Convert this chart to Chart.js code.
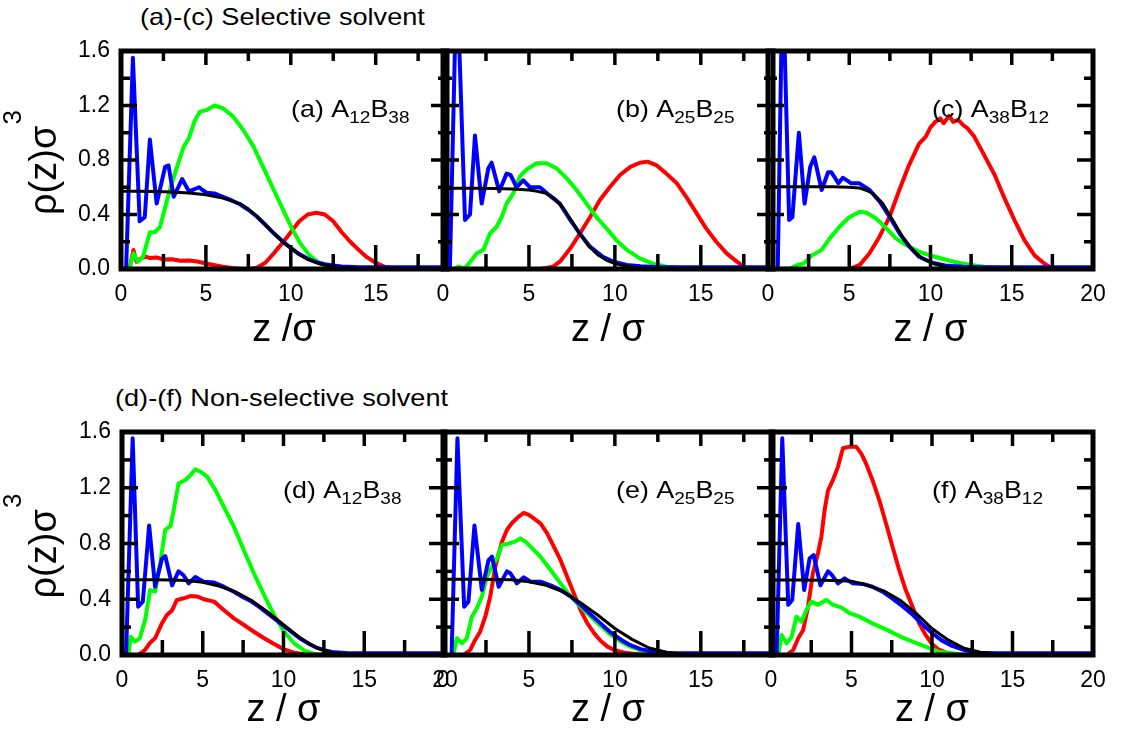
<!DOCTYPE html>
<html><head><meta charset="utf-8">
<script src="https://cdn.jsdelivr.net/npm/chart.js@4.4.1/dist/chart.umd.min.js"></script>
<style>
html,body{margin:0;padding:0;background:#fff;}
body{width:1127px;height:733px;position:relative;overflow:hidden;font-family:'Liberation Sans',Arial,sans-serif;}
canvas{position:absolute;}
.hdr{position:absolute;font-size:24px;line-height:26px;white-space:nowrap;color:#000;transform:scaleX(1.13);transform-origin:0 0;}
</style></head><body>
<div class="hdr" style="left:140px;top:4px">(a)-(c) Selective solvent</div>
<div class="hdr" style="left:115px;top:385px">(d)-(f) Non-selective solvent</div>
<script>
// ---------- data: [z/σ, ρ(z)σ³] ----------
const a_black = [[0,0.57],[1,0.57],[2,0.568],[3,0.565],[4,0.558],[5,0.545],[6,0.52],[6.5,0.5],[7,0.48],[7.5,0.44],[8,0.386],[8.5,0.325],[9,0.262],[9.5,0.203],[10,0.152],[10.5,0.105],[11,0.071],[11.5,0.047],[12,0.029],[12.5,0.017],[13,0.01],[14,0.003],[15,0.001],[16,0],[19.2,0]];
const a_blue = [[0.3,0],[0.7,1.55],[1.1,0.35],[1.4,0.38],[1.7,0.95],[2.1,0.48],[2.6,0.75],[2.8,0.76],[3.1,0.53],[3.6,0.66],[4.0,0.57],[4.3,0.585],[4.6,0.6],[4.8,0.58],[5.05,0.56],[5.5,0.555],[6.0,0.53],[6.5,0.505],[7,0.475],[7.5,0.435],[8,0.385],[8.5,0.325],[9,0.262],[9.5,0.205],[10,0.155],[10.5,0.11],[11,0.075],[11.5,0.05],[12,0.035],[12.5,0.025],[13,0.018],[14,0.013],[15,0.012],[19.2,0.012]];
const a_green = [[0.5,0],[0.73,0.115],[1.0,0.054],[1.3,0.09],[1.7,0.27],[2.0,0.27],[2.3,0.31],[2.7,0.5],[3.0,0.63],[3.3,0.75],[3.7,0.9],[4.0,0.96],[4.35,1.09],[4.65,1.155],[5.05,1.167],[5.5,1.2],[6.0,1.18],[6.6,1.12],[7.2,1.02],[7.8,0.9],[8.4,0.74],[9.0,0.58],[9.6,0.42],[10.06,0.3],[10.55,0.19],[11.1,0.1],[11.7,0.04],[12.3,0.01],[13,0],[19.2,0]];
const a_red = [[0.5,0],[0.73,0.14],[0.92,0.054],[1.2,0.08],[1.5,0.09],[1.7,0.08],[2.1,0.085],[2.5,0.07],[3.0,0.072],[3.5,0.06],[4.0,0.062],[4.5,0.055],[5,0.04],[6,0.017],[7,0],[7.6,0],[8,0.01],[8.5,0.046],[9,0.115],[9.5,0.19],[10,0.27],[10.5,0.35],[11,0.4],[11.5,0.413],[12,0.4],[12.5,0.35],[13,0.27],[13.5,0.2],[14,0.14],[14.5,0.085],[15,0.046],[15.5,0.017],[16,0.005],[16.5,0],[19.2,0]];

const b_black = [[0,0.592],[1,0.592],[2,0.592],[3,0.59],[4,0.588],[5,0.58],[5.5,0.57],[6,0.555],[6.5,0.515],[7,0.445],[7.5,0.35],[8,0.25],[8.5,0.165],[9,0.105],[9.5,0.066],[10,0.04],[10.5,0.025],[11,0.015],[11.5,0.009],[12,0.005],[13,0.001],[14,0],[19.2,0]];
const b_blue = [[0.4,0],[0.8,2.2],[1.28,0.36],[1.57,0.4],[1.86,0.98],[2.25,0.48],[2.64,0.74],[2.83,0.78],[3.27,0.57],[3.7,0.7],[3.93,0.69],[4.28,0.6],[4.67,0.65],[5.06,0.6],[5.64,0.6],[6.2,0.54],[6.8,0.48],[7.4,0.36],[7.96,0.26],[8.55,0.164],[9.3,0.09],[9.9,0.054],[10.7,0.03],[11.5,0.02],[12.4,0.014],[13.5,0.012],[19.2,0.012]];
const b_green = [[0.6,0],[0.9,0.017],[1.28,0.005],[1.67,0.066],[1.96,0.115],[2.35,0.14],[2.73,0.26],[3.12,0.31],[3.41,0.38],[3.7,0.48],[4.09,0.555],[4.48,0.68],[4.86,0.73],[5.45,0.776],[6.03,0.776],[6.6,0.74],[7.2,0.665],[7.77,0.58],[8.35,0.48],[8.93,0.38],[9.5,0.3],[10.1,0.21],[10.7,0.14],[11.45,0.078],[12.2,0.04],[13,0.017],[14,0.005],[15,0],[19.2,0]];
const b_red = [[0.6,0],[5.64,0],[6.4,0.017],[6.8,0.054],[7.4,0.15],[7.96,0.26],[8.55,0.38],[9.13,0.506],[9.7,0.6],[10.3,0.69],[10.9,0.75],[11.45,0.78],[11.9,0.788],[12.4,0.763],[13,0.7],[13.6,0.63],[14.2,0.52],[14.75,0.41],[15.3,0.3],[15.9,0.2],[16.5,0.115],[17.1,0.054],[17.5,0.017],[17.85,0],[19.2,0]];

const c_black = [[0,0.604],[2,0.604],[4,0.603],[5,0.6],[5.6,0.595],[6,0.58],[6.46,0.555],[7.06,0.48],[7.67,0.36],[8.28,0.237],[8.89,0.14],[9.49,0.078],[10.1,0.042],[10.9,0.017],[12,0.004],[13,0],[20,0]];
const c_blue = [[0.6,0],[0.9,2.2],[1.3,0.36],[1.5,0.38],[1.9,1.0],[2.25,0.48],[2.6,0.75],[2.85,0.82],[3.3,0.58],[3.7,0.71],[3.9,0.71],[4.33,0.63],[4.6,0.67],[5.1,0.63],[5.6,0.63],[6.25,0.58],[6.9,0.49],[7.5,0.38],[8.1,0.26],[8.7,0.164],[9.3,0.09],[10.1,0.046],[10.9,0.026],[12,0.016],[13,0.013],[14,0.012],[20,0.012]];
const c_green = [[0.7,0],[1.4,0.005],[1.8,0.03],[2.2,0.04],[2.7,0.1],[3.3,0.14],[3.8,0.225],[4.4,0.31],[5.0,0.38],[5.65,0.42],[6.05,0.413],[6.66,0.37],[7.27,0.3],[7.87,0.225],[8.5,0.176],[9.3,0.127],[10.1,0.095],[10.9,0.07],[11.7,0.046],[12.5,0.03],[13.3,0.017],[14.5,0.005],[15.5,0],[20,0]];
const c_red = [[0.7,0],[5.0,0],[5.65,0.03],[6.25,0.115],[6.86,0.237],[7.47,0.38],[8.08,0.58],[8.68,0.763],[9.3,0.92],[9.7,0.97],[10.0,1.04],[10.3,1.08],[10.6,1.106],[10.8,1.07],[11.15,1.123],[11.4,1.08],[11.7,1.094],[12.0,1.057],[12.3,1.03],[12.7,0.97],[13.3,0.837],[13.95,0.69],[14.55,0.52],[15.16,0.36],[15.77,0.213],[16.4,0.1],[17.0,0.04],[17.4,0.01],[17.8,0],[20,0]];

const d_black = [[0,0.54],[1,0.54],[2,0.54],[3,0.538],[4,0.535],[5,0.522],[6,0.495],[7,0.455],[8,0.393],[9,0.31],[10,0.217],[11,0.126],[12,0.054],[13,0.016],[14,0.005],[15,0.001],[16,0],[20,0]];
const d_blue = [[0.25,0],[0.66,1.555],[1.0,0.347],[1.29,0.383],[1.68,0.93],[2.05,0.49],[2.47,0.69],[2.68,0.71],[3.1,0.5],[3.5,0.6],[3.8,0.574],[4.13,0.514],[4.54,0.56],[5.06,0.526],[5.7,0.52],[6.3,0.49],[6.9,0.455],[7.5,0.415],[8.0,0.385],[8.5,0.345],[9.0,0.3],[9.5,0.255],[10,0.21],[10.5,0.165],[11,0.12],[11.5,0.085],[12,0.055],[12.5,0.035],[13,0.022],[14,0.013],[15,0.012],[20,0.012]];
const d_green = [[0.4,0],[0.54,0.13],[0.8,0.096],[1.1,0.12],[1.43,0.25],[1.74,0.466],[2.05,0.454],[2.37,0.66],[2.68,0.9],[3.0,0.925],[3.2,1.04],[3.5,1.23],[3.92,1.256],[4.23,1.29],[4.54,1.332],[4.85,1.315],[5.27,1.28],[5.8,1.18],[6.3,1.064],[6.93,0.92],[7.55,0.75],[8.17,0.586],[8.8,0.43],[9.42,0.287],[10.04,0.167],[10.66,0.084],[11.3,0.031],[11.9,0.007],[12.5,0],[20,0]];
const d_red = [[0.8,0],[1.0,0],[1.43,0.036],[1.74,0.088],[2.05,0.12],[2.47,0.227],[2.78,0.287],[3.1,0.32],[3.4,0.395],[3.82,0.407],[4.23,0.423],[4.65,0.42],[5.06,0.4],[5.7,0.383],[6.3,0.323],[6.93,0.263],[7.55,0.215],[8.17,0.167],[8.8,0.12],[9.42,0.079],[10.04,0.04],[10.66,0.017],[11.3,0.005],[12,0],[20,0]];

const e_black = [[0,0.543],[1,0.543],[2,0.543],[3,0.542],[4,0.54],[5,0.526],[6,0.5],[7,0.454],[8,0.375],[9,0.287],[10,0.19],[11,0.112],[12,0.05],[13,0.02],[14,0.006],[15,0],[19.2,0]];
const e_blue = [[0.5,0],[0.84,1.555],[1.23,0.347],[1.48,0.383],[1.83,0.93],[2.26,0.466],[2.65,0.68],[2.85,0.705],[3.24,0.49],[3.72,0.6],[3.92,0.586],[4.3,0.514],[4.7,0.557],[5.09,0.526],[5.67,0.526],[6.26,0.5],[6.84,0.466],[7.43,0.42],[8.0,0.36],[8.6,0.29],[9.18,0.225],[9.77,0.16],[10.35,0.11],[10.9,0.07],[11.5,0.042],[12.3,0.022],[13.1,0.014],[14,0.012],[19.2,0.012]];
const e_green = [[0.6,0],[0.8,0.12],[1.1,0.084],[1.38,0.12],[1.68,0.275],[1.97,0.335],[2.26,0.42],[2.55,0.56],[2.85,0.634],[3.14,0.694],[3.43,0.79],[3.82,0.8],[4.2,0.813],[4.5,0.837],[4.8,0.813],[5.19,0.765],[5.67,0.705],[6.26,0.61],[6.84,0.514],[7.43,0.42],[8.0,0.347],[8.6,0.275],[9.18,0.208],[9.77,0.144],[10.35,0.096],[10.9,0.06],[11.7,0.024],[12.5,0.005],[13.5,0],[19.2,0]];
const e_red = [[1.2,0],[1.58,0.036],[1.87,0.108],[2.16,0.167],[2.46,0.275],[2.75,0.42],[3.04,0.634],[3.43,0.813],[3.72,0.897],[4.0,0.945],[4.4,0.993],[4.7,1.02],[5.0,1.005],[5.28,0.98],[5.67,0.945],[6.06,0.873],[6.45,0.777],[6.84,0.68],[7.23,0.56],[7.62,0.44],[8.0,0.323],[8.4,0.227],[8.8,0.155],[9.18,0.1],[9.57,0.06],[9.96,0.036],[10.55,0.017],[11.3,0.005],[12,0],[19.2,0]];

const f_black = [[0,0.538],[1,0.538],[2,0.538],[3,0.537],[4,0.535],[5,0.53],[6,0.5],[7,0.46],[8,0.395],[9,0.3],[10,0.19],[11,0.108],[12,0.048],[13,0.02],[14,0.006],[15,0],[20,0]];
const f_blue = [[0.35,0],[0.7,1.555],[1.07,0.36],[1.32,0.395],[1.69,0.94],[2.06,0.466],[2.4,0.694],[2.65,0.717],[3.07,0.5],[3.54,0.6],[3.74,0.58],[4.16,0.514],[4.57,0.55],[5.08,0.514],[5.7,0.51],[6.3,0.49],[6.93,0.455],[7.55,0.405],[8.17,0.35],[8.79,0.29],[9.4,0.22],[10.0,0.158],[10.6,0.105],[11.25,0.065],[12.1,0.032],[12.9,0.017],[14,0.012],[20,0.012]];
const f_green = [[0.45,0],[0.66,0.144],[0.97,0.084],[1.28,0.13],[1.58,0.275],[1.89,0.24],[2.2,0.323],[2.5,0.383],[2.92,0.36],[3.43,0.395],[3.85,0.36],[4.36,0.342],[4.88,0.3],[5.5,0.275],[6.3,0.227],[7.14,0.184],[7.96,0.136],[8.79,0.096],[9.6,0.06],[10.4,0.024],[11.25,0.012],[12,0],[20,0]];
const f_red = [[0.97,0],[1.38,0.036],[1.69,0.12],[2.0,0.18],[2.3,0.347],[2.6,0.586],[2.92,0.73],[3.13,0.85],[3.33,1.04],[3.54,1.18],[3.85,1.256],[4.16,1.35],[4.47,1.483],[4.88,1.495],[5.29,1.495],[5.6,1.447],[5.9,1.375],[6.3,1.256],[6.73,1.11],[7.14,0.945],[7.55,0.777],[7.96,0.61],[8.37,0.466],[8.79,0.347],[9.2,0.227],[9.6,0.144],[10.0,0.079],[10.4,0.04],[11.0,0.012],[11.7,0],[20,0]];

// tick values and labels
const xMajorTicks = [0,5,10,15,20];
const xMinorTicks = [2.5,7.5,12.5,17.5];
const yMajorTicks = [0,0.4,0.8,1.2,1.6];
const yMinorTicks = [0.2,0.6,1.0,1.4];
const panelLetters = ['a','b','c','d','e','f'];
const compA = ['12','25','38','12','25','38'];
const compB = ['38','25','12','38','25','12'];
const xTitles = ['z /σ','z / σ','z / σ','z / σ','z / σ','z / σ'];
const yTitleMain = 'ρ(z)σ';
const yTitleSup = '3';
const seriesNames = ['black','blue','green','red'];
const panelSeries = [
  [a_black,a_blue,a_green,a_red],
  [b_black,b_blue,b_green,b_red],
  [c_black,c_blue,c_green,c_red],
  [d_black,d_blue,d_green,d_red],
  [e_black,e_blue,e_green,e_red],
  [f_black,f_blue,f_green,f_red]
];

// ---------- layout / style ----------
const FAM = "'Liberation Sans', Arial, sans-serif";
const seriesStyle = {
  black: {color:'#000000', width:3},
  blue:  {color:'#0000ff', width:4},
  green: {color:'#00ff00', width:4},
  red:   {color:'#ff0000', width:4}
};
const layout = [
  {L:121, R:447, T:51,  B:269, xmax:19.2, col:0, row:0, lx:170},
  {L:443, R:773, T:51,  B:269, xmax:19.2, col:1, row:0, lx:173},
  {L:768, R:1093,T:51,  B:269, xmax:20,   col:2, row:0, lx:164},
  {L:122, R:445, T:432, B:655, xmax:20,   col:0, row:1, lx:161},
  {L:443, R:773, T:432, B:655, xmax:19.2, col:1, row:1, lx:173},
  {L:771, R:1093,T:432, B:655, xmax:20,   col:2, row:1, lx:161}
];

const framePlugin = {
  id: 'frame',
  afterDatasetsDraw(chart, args, opts) {
    const {ctx, chartArea: a, scales: {x, y}} = chart;
    ctx.save();
    ctx.strokeStyle = '#000';
    ctx.lineCap = 'butt';
    ctx.lineWidth = 3.5;
    const seg = (x1,y1,x2,y2) => { ctx.beginPath(); ctx.moveTo(x1,y1); ctx.lineTo(x2,y2); ctx.stroke(); };
    const xmax = x.max + 1e-6;
    xMajorTicks.filter(v => v <= xmax).forEach(v => {
      const p = x.getPixelForValue(v);
      seg(p, a.bottom, p, a.bottom - 24);
      seg(p, a.top, p, a.top + 14);
    });
    xMinorTicks.filter(v => v <= xmax).forEach(v => {
      const p = x.getPixelForValue(v);
      seg(p, a.bottom, p, a.bottom - 15);
      seg(p, a.top, p, a.top + 10);
    });
    yMajorTicks.forEach(v => {
      const p = y.getPixelForValue(v);
      seg(a.left, p, a.left + 16, p);
      seg(a.right, p, a.right - 16, p);
    });
    yMinorTicks.forEach(v => {
      const p = y.getPixelForValue(v);
      seg(a.left, p, a.left + 9, p);
      seg(a.right, p, a.right - 9, p);
    });
    ctx.lineWidth = 5;
    ctx.lineJoin = 'miter';
    ctx.strokeRect(a.left, a.top, a.right - a.left, a.bottom - a.top);

    // panel label with subscripts
    ctx.fillStyle = '#000';
    ctx.textBaseline = 'alphabetic';
    ctx.textAlign = 'left';
    ctx.save();
    ctx.translate(a.left + opts.lx, a.top + 66);
    ctx.scale(1.12, 1);
    let cx = 0;
    const big = '24px ' + FAM, small = '17px ' + FAM;
    const put = (t, f, dy) => { ctx.font = f; ctx.fillText(t, cx, dy); cx += ctx.measureText(t).width; };
    put('(' + opts.letter + ') A', big, 0);
    put(opts.sa, small, 6);
    put('B', big, 0);
    put(opts.sb, small, 6);
    ctx.restore();

    // y axis title (first column only)
    if (opts.yTitle) {
      ctx.save();
      ctx.translate(56, (a.top + a.bottom) / 2 + 55);
      ctx.rotate(-Math.PI / 2);
      ctx.font = '38px ' + FAM;
      ctx.fillText(yTitleMain, 0, 0);
      const w = ctx.measureText(yTitleMain).width;
      ctx.font = '26px ' + FAM;
      ctx.fillText(yTitleSup, w + 1, -35);
      ctx.restore();
    }
    ctx.restore();
  }
};

layout.forEach((p, i) => {
  const padT = 32, padR = 32;
  const padL = p.col === 0 ? p.L : 32;
  const padB = p.row === 0 ? 95 : 78;
  const W = (p.R - p.L) + padL + padR;
  const H = (p.B - p.T) + padT + padB;
  const cv = document.createElement('canvas');
  cv.width = W; cv.height = H;
  cv.style.left = (p.L - padL) + 'px';
  cv.style.top = (p.T - padT) + 'px';
  cv.style.width = W + 'px'; cv.style.height = H + 'px';
  document.body.appendChild(cv);

  const datasets = panelSeries[i].map((pts, k) => {
    const st = seriesStyle[seriesNames[k]];
    return {
      label: seriesNames[k],
      data: pts.map(q => ({x: q[0], y: q[1]})),
      borderColor: st.color,
      borderWidth: st.width,
      pointRadius: 0,
      tension: 0,
      fill: false,
      borderJoinStyle: 'round',
      borderCapStyle: 'round'
    };
  });

  new Chart(cv, {
    type: 'line',
    data: {datasets},
    options: {
      responsive: false,
      animation: false,
      devicePixelRatio: 1,
      events: [],
      layout: {padding: {top: padT, right: padR, left: 0, bottom: 0}},
      plugins: {
        legend: {display: false},
        tooltip: {enabled: false},
        frame: {lx: p.lx, letter: panelLetters[i], sa: compA[i], sb: compB[i], yTitle: p.col === 0}
      },
      scales: {
        x: {
          type: 'linear', min: 0, max: p.xmax,
          grid: {display: false, drawTicks: false},
          border: {display: false},
          afterFit: s => { s.height = padB; },
          afterBuildTicks: s => { s.ticks = xMajorTicks.filter(v => v <= p.xmax + 1e-6).map(v => ({value: v})); },
          ticks: {autoSkip: false, maxRotation: 0, padding: 12, color: '#000',
                  font: {family: FAM, size: 23}, callback: v => String(v)},
          title: {display: true, text: xTitles[i], color: '#000',
                  font: {family: FAM, size: 38}, padding: {top: 0, bottom: p.row === 0 ? 11 : 0}}
        },
        y: {
          type: 'linear', min: 0, max: 1.6,
          grid: {display: false, drawTicks: false},
          border: {display: false},
          afterFit: s => { s.width = padL; },
          afterBuildTicks: s => { s.ticks = yMajorTicks.map(v => ({value: v})); },
          ticks: {display: p.col === 0, padding: 11, color: '#000',
                  font: {family: FAM, size: 23}, callback: v => Number(v).toFixed(1)}
        }
      }
    },
    plugins: [framePlugin]
  });
});
</script>
</body></html>
